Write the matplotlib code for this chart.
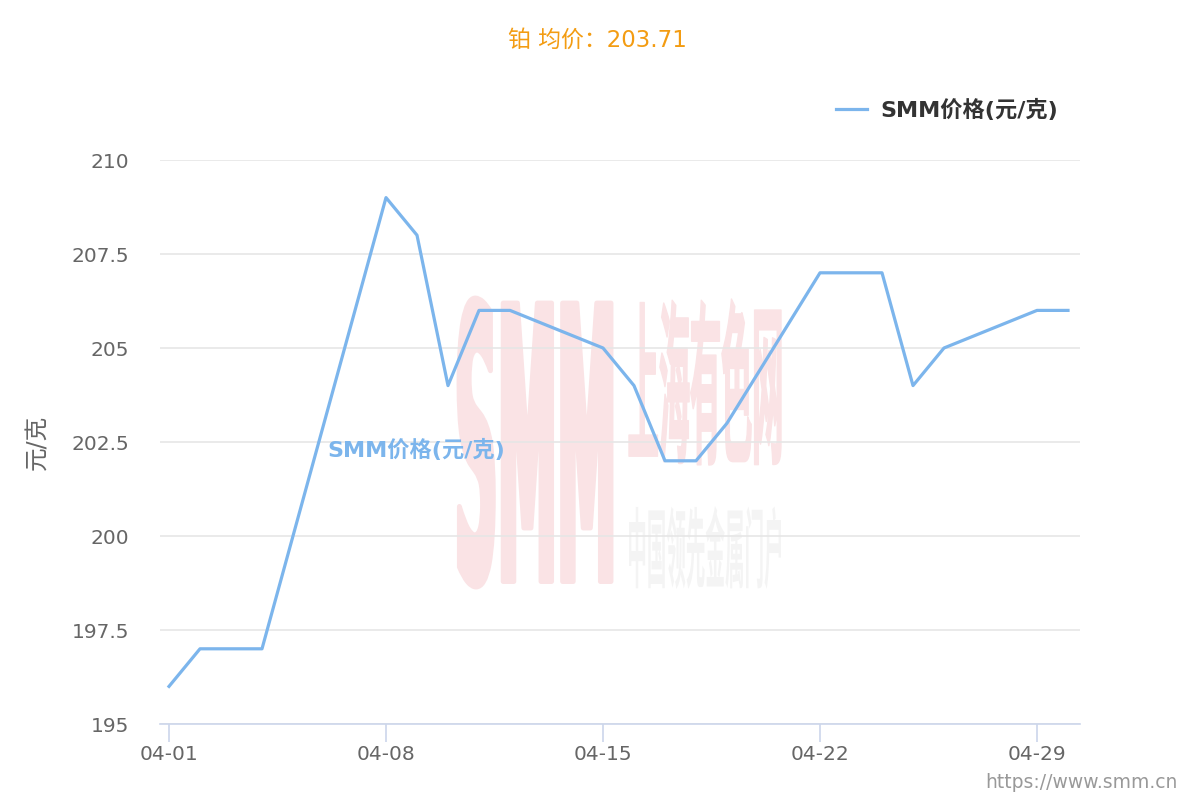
import matplotlib
matplotlib.use('Agg')
import matplotlib.pyplot as plt
from matplotlib.font_manager import FontProperties
from matplotlib.textpath import TextPath
from matplotlib.patches import PathPatch
from matplotlib.transforms import Affine2D

plt.rcParams['font.family'] = ['DejaVu Sans', 'Noto Sans CJK SC']

# price data, SMM platinum, April
dates = ['04-01', '04-02', '04-03', '04-04', '04-08', '04-09', '04-10',
         '04-11', '04-12', '04-15', '04-16', '04-17', '04-18', '04-19',
         '04-22', '04-23', '04-24', '04-25', '04-26', '04-29', '04-30']
prices = [196, 197, 197, 197, 209, 208, 204,
          206, 206, 205, 204, 202, 202, 203,
          207, 207, 207, 204, 205, 206, 206]
tick_dates = ['04-01', '04-08', '04-15', '04-22', '04-29']
y_ticks = [195, 197.5, 200, 202.5, 205, 207.5, 210]
y_tick_labels = ['195', '197.5', '200', '202.5', '205', '207.5', '210']

series_name = 'SMM价格(元/克)'
line_color = '#7cb5ec'
avg = sum(prices) / len(prices)


def day_index(d):
    return int(d.split('-')[1]) - 1


def stretched_text(ax, s, box, color, family, thick=0):
    # draw text squeezed into a pixel box (x0, y0, x1, y1), y from the top
    fp = FontProperties(family=family, weight='bold')
    path = TextPath((0, 0), s, prop=fp, size=100)
    ext = path.get_extents()
    x0, y0, x1, y1 = box
    tr = (Affine2D().translate(-ext.x0, -ext.y0)
          .scale((x1 - x0) / ext.width, -(y1 - y0) / ext.height)
          .translate(x0, y1))
    ax.add_patch(PathPatch(tr.transform_path(path), facecolor=color,
                           edgecolor=color if thick else 'none', lw=thick,
                           joinstyle='round'))


fig = plt.figure(figsize=(12, 8), dpi=100)

# watermark layer behind the chart
wm = fig.add_axes([0, 0, 1, 1], zorder=0)
wm.set_xlim(0, 1200)
wm.set_ylim(800, 0)
wm.axis('off')
stretched_text(wm, 'SMM', (459, 298, 611, 587), '#fae3e5', 'DejaVu Sans', thick=3.5)
stretched_text(wm, '上海有色网', (629, 299, 781, 465), '#fae3e5', 'Noto Sans CJK SC', thick=1)
stretched_text(wm, '中国领先金属门户', (629, 506, 781, 589), '#f4f4f4', 'Noto Sans CJK SC')

ax = fig.add_axes([160 / 1200, 1 - 724 / 800, 920 / 1200, 564 / 800], zorder=1)
ax.patch.set_alpha(0)

xs = [day_index(d) for d in dates]
ax.plot(xs, prices, color=line_color, lw=2.3, label=series_name,
        solid_joinstyle='round', zorder=3)

ax.set_xlim(-9 / 31, 29 + 12 / 31)
ax.set_ylim(195, 210)
ax.set_xticks([day_index(d) for d in tick_dates])
ax.set_xticklabels(tick_dates)
ax.set_yticks(y_ticks)
ax.set_yticklabels(y_tick_labels)

ax.grid(axis='y', color='#e6e6e6', lw=1.2)
ax.set_axisbelow(True)
for side in ['top', 'right', 'left']:
    ax.spines[side].set_visible(False)
ax.spines['bottom'].set_color('#ccd6eb')
ax.spines['bottom'].set_linewidth(1.2)
ax.tick_params(axis='x', colors='#ccd6eb', length=13, width=1.2, pad=2,
               labelcolor='#666666', labelsize=14.5)
ax.tick_params(axis='y', length=0, pad=22, labelcolor='#666666', labelsize=14.5)

ax.set_ylabel('元/克', color='#666666', fontsize=17, labelpad=16)

ax.text(5.1, 202.3, series_name, color=line_color, fontsize=16,
        fontweight='bold', ha='left', va='center', zorder=4)

fig.text(597 / 1200, 1 - 40 / 800, f'铂 均价：{avg:.2f}', color='#f39c12',
         fontsize=16.5, ha='center', va='center')

fig.legend(loc='center right', bbox_to_anchor=(1078 / 1200, 1 - 110 / 800),
           frameon=False, handlelength=1.4, handletextpad=0.6,
           prop=FontProperties(family=['DejaVu Sans', 'Noto Sans CJK SC'],
                               weight='bold', size=16),
           labelcolor='#333333')

fig.text(1178 / 1200, 1 - 783 / 800, 'https://www.smm.cn', color='#999999',
         fontsize=13.5, ha='right', va='center')

fig.savefig('out.png', dpi=100)
